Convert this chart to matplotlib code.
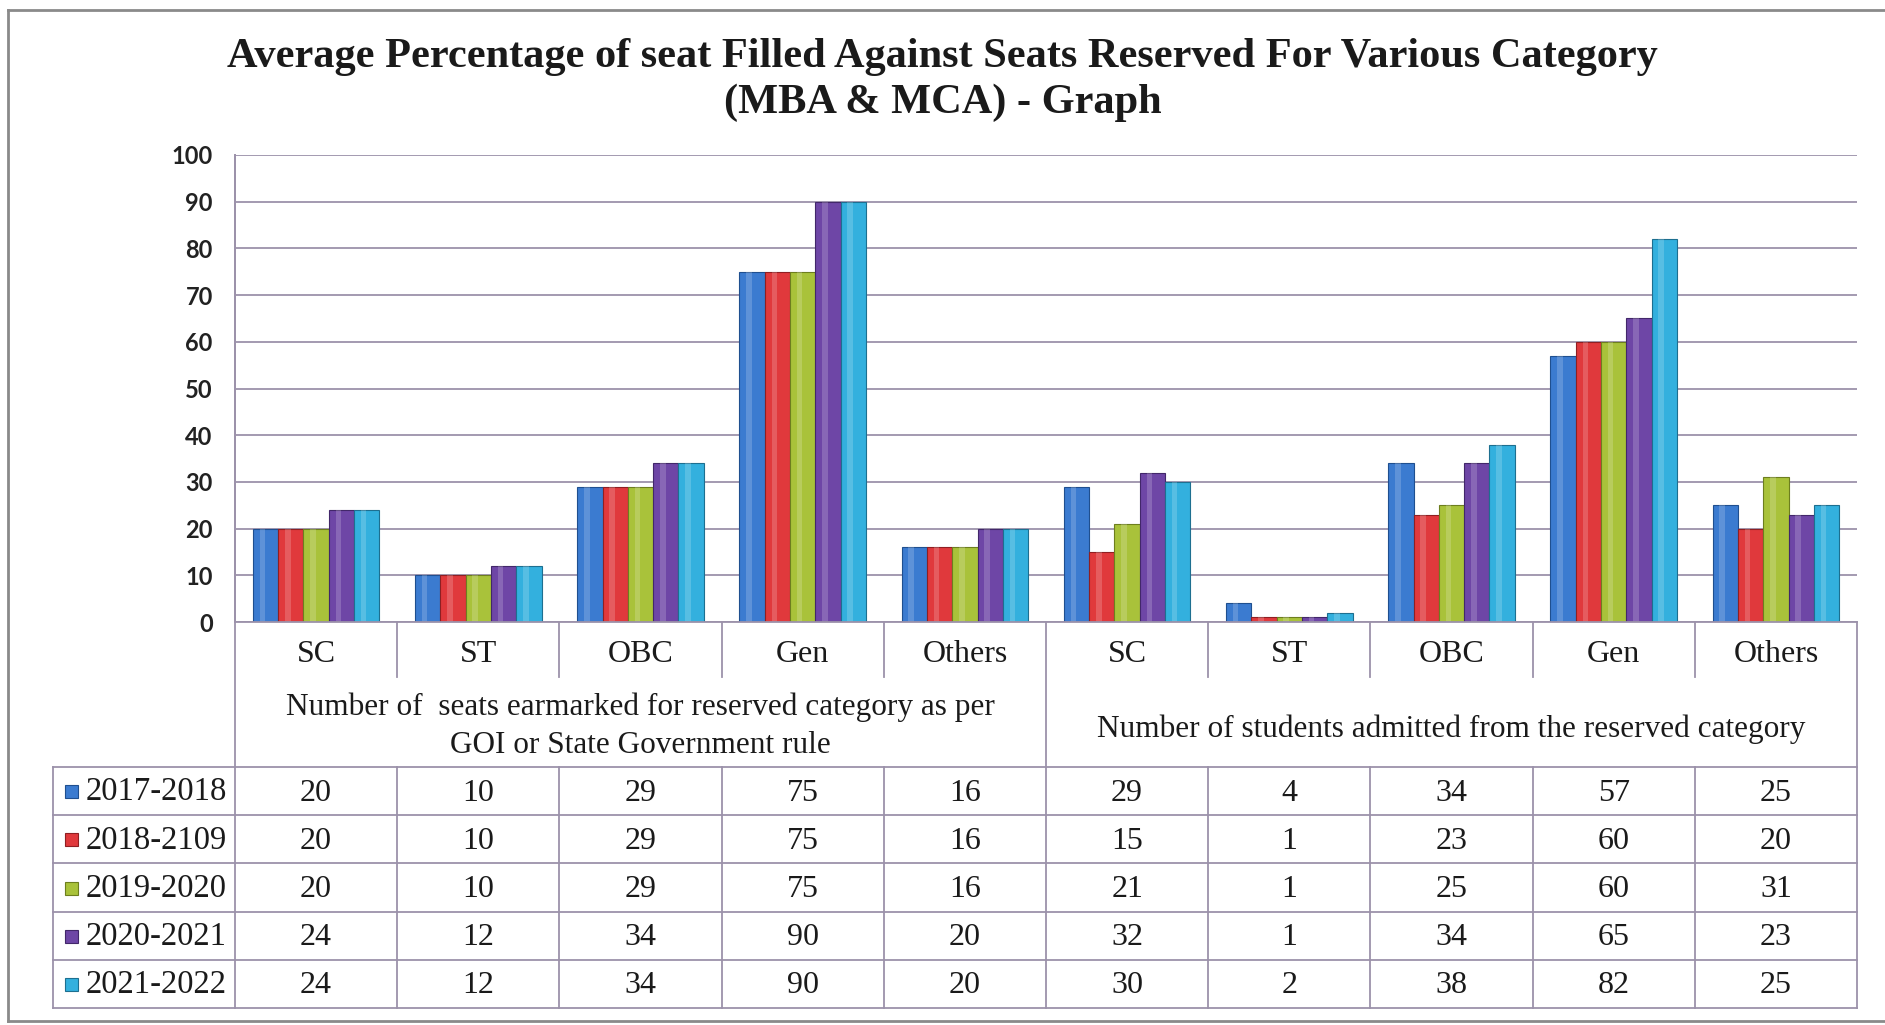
import matplotlib.pyplot as plt
from matplotlib.lines import Line2D
from matplotlib.patches import Rectangle
from matplotlib.transforms import blended_transform_factory

categories = ["SC", "ST", "OBC", "Gen", "Others", "SC", "ST", "OBC", "Gen", "Others"]
years = ["2017-2018", "2018-2109", "2019-2020", "2020-2021", "2021-2022"]
v_2017 = [20, 10, 29, 75, 16, 29, 4, 34, 57, 25]
v_2018 = [20, 10, 29, 75, 16, 15, 1, 23, 60, 20]
v_2019 = [20, 10, 29, 75, 16, 21, 1, 25, 60, 31]
v_2020 = [24, 12, 34, 90, 20, 32, 1, 34, 65, 23]
v_2021 = [24, 12, 34, 90, 20, 30, 2, 38, 82, 25]
series = [v_2017, v_2018, v_2019, v_2020, v_2021]
group_labels = ["Number of  seats earmarked for reserved category as per\nGOI or State Government rule",
                "Number of students admitted from the reserved category"]
yticks = [0, 10, 20, 30, 40, 50, 60, 70, 80, 90, 100]

colors = ["#3b7bd0", "#e0393c", "#a9c23a", "#6e46a6", "#33b0de"]
edges = ["#1f4f8f", "#8f1f22", "#6d7e1e", "#42276a", "#1d6f90"]
line_c = "#9c92aa"

W, H = 1885, 1025
fig = plt.figure(figsize=(W / 100, H / 100), dpi=100)
fig.patch.set_facecolor("white")

def fx(x):
    return x / W

def fy(y):
    return 1 - y / H

# plot area in pixels
left, right, top, zero = 235, 1857, 155, 622
ax = fig.add_axes([fx(left), fy(zero), fx(right - left), (zero - top) / H])
ax.set_xlim(0, len(categories))
ax.set_ylim(0, 100)

bw = 0.156
for j, vals in enumerate(series):
    xs = [i + 0.5 + (j - 2) * bw for i in range(len(categories))]
    ax.bar(xs, vals, width=bw, color=colors[j], edgecolor=edges[j], linewidth=0.8, zorder=3)
    # light highlight stripe for the rounded Excel look
    ax.bar([x - bw * 0.12 for x in xs], vals, width=bw * 0.22, color="white", alpha=0.18,
           linewidth=0, zorder=4)

ax.set_yticks(yticks)
ax.set_xticks([])
ax.yaxis.grid(True, color=line_c, linewidth=1.3)
ax.set_axisbelow(True)
for s in ["top", "right", "bottom"]:
    ax.spines[s].set_visible(False)
ax.spines["left"].set_color(line_c)
ax.spines["left"].set_linewidth(1.3)
ax.tick_params(axis="y", length=0, pad=16)
for lab in ax.get_yticklabels():
    lab.set_fontfamily("Lato")
    lab.set_fontweight("bold")
    lab.set_fontsize(17)
    lab.set_color("#222222")

# title
fig.text(0.5, fy(57), "Average Percentage of seat Filled Against Seats Reserved For Various Category",
         ha="center", va="center", fontsize=30.5, fontweight="bold", family="Liberation Serif", color="#1a1a1a")
fig.text(0.5, fy(103), "(MBA & MCA) - Graph",
         ha="center", va="center", fontsize=30.5, fontweight="bold", family="Liberation Serif", color="#1a1a1a")

# data table below the chart
def hline(x0, x1, y):
    fig.add_artist(Line2D([fx(x0), fx(x1)], [fy(y), fy(y)], color=line_c, lw=1.3, transform=fig.transFigure))

def vline(x, y0, y1):
    fig.add_artist(Line2D([fx(x), fx(x)], [fy(y0), fy(y1)], color=line_c, lw=1.3, transform=fig.transFigure))

cw = (right - left) / len(categories)
cat_bottom, rows_top, rh = 677, 767, 48.2
leg_left = 53
bottom = rows_top + rh * len(years)

hline(left, right, zero)
for r in range(len(years) + 1):
    hline(leg_left, right, rows_top + r * rh)
vline(left, top, bottom)
vline(leg_left, rows_top, bottom)
for k in range(1, len(categories) + 1):
    x = left + k * cw
    if k == 5 or k == len(categories):
        vline(x, zero, bottom)
    else:
        vline(x, zero, cat_bottom)
        vline(x, rows_top, bottom)

tr = blended_transform_factory(ax.transData, fig.transFigure)
for i, c in enumerate(categories):
    fig.text(i + 0.5, fy(654), c, transform=tr, ha="center", va="center",
             fontsize=23, family="Liberation Serif", color="#1a1a1a")
fig.text(2.5, fy(726), group_labels[0], transform=tr, ha="center", va="center",
         fontsize=22.5, family="Liberation Serif", color="#1a1a1a", linespacing=1.4)
fig.text(7.5, fy(729), group_labels[1], transform=tr, ha="center", va="center",
         fontsize=22.5, family="Liberation Serif", color="#1a1a1a")

for j, (yr, vals) in enumerate(zip(years, series)):
    yc = rows_top + (j + 0.5) * rh
    fig.add_artist(Rectangle((fx(65), fy(yc + 7)), 13 / W, 13 / H, transform=fig.transFigure,
                             facecolor=colors[j], edgecolor=edges[j], lw=0.8))
    fig.text(fx(86), fy(yc + 1), yr, ha="left", va="center", fontsize=23.5,
             family="Liberation Serif", color="#1a1a1a")
    for i, v in enumerate(vals):
        fig.text(i + 0.5, fy(yc + 2), str(v), transform=tr, ha="center", va="center",
                 fontsize=23, family="Liberation Serif", color="#1a1a1a")

# outer chart frame
fig.add_artist(Line2D([fx(8), fx(8)], [fy(10), fy(1021)], color="#8a8a8a", lw=2, transform=fig.transFigure))
fig.add_artist(Line2D([fx(8), fx(1885)], [fy(10), fy(10)], color="#8a8a8a", lw=2, transform=fig.transFigure))
fig.add_artist(Line2D([fx(8), fx(1885)], [fy(1021), fy(1021)], color="#8a8a8a", lw=2, transform=fig.transFigure))

fig.savefig("out.png", dpi=100)
